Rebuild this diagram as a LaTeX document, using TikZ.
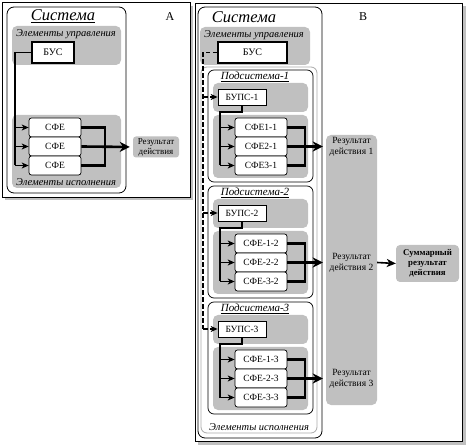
\documentclass[tikz,border=0pt]{standalone}
\usepackage{fontspec}
\setmainfont{Liberation Serif}
\usetikzlibrary{arrows.meta,calc}
\definecolor{areagray}{RGB}{192,192,192}
\definecolor{shadegray}{RGB}{192,192,192}
\definecolor{rimgray}{RGB}{170,170,170}
\begin{document}
\begin{tikzpicture}[x=1pt,y=-1pt,
  frame/.style={draw=black,fill=white,line width=0.8pt},
  shade/.style={fill=shadegray,draw=none},
  sysbox/.style={draw=black,fill=white,rounded corners=7pt,line width=0.8pt},
  subbox/.style={draw=black,fill=white,rounded corners=6pt,line width=0.7pt},
  rim/.style={draw=rimgray,fill=white,rounded corners=6pt,line width=0.8pt},
  area/.style={fill=areagray,draw=none,rounded corners=5pt},
  lbl/.style={font=\fontsize{10.5}{11}\selectfont\itshape,inner sep=0pt},
  subtitle/.style={font=\fontsize{11}{12}\selectfont\itshape,inner sep=0pt},
  bigtitle/.style={font=\fontsize{16.5}{17}\selectfont\itshape,inner sep=0pt},
  letter/.style={font=\fontsize{12}{13}\selectfont,inner sep=0pt},
  busbox/.style={draw=black,fill=white,line width=1.8pt,inner sep=0pt,font=\fontsize{10}{11}\selectfont},
  bupsbox/.style={draw=black,fill=white,line width=0.7pt,inner sep=0pt,minimum width=48pt,minimum height=16pt,font=\fontsize{9.5}{10}\selectfont},
  sfebox/.style={draw=black,fill=white,rounded corners=2.5pt,line width=0.7pt,inner sep=0pt,minimum width=52pt,minimum height=19pt,font=\fontsize{9.5}{10}\selectfont},
  restext/.style={inner sep=0pt,align=center,font=\fontsize{9.5}{11}\selectfont},
  ctl/.style={draw=black,line width=1.1pt},
  ctlarr/.style={draw=black,line width=1.1pt,-{Stealth[length=7pt,width=6pt,inset=2pt]}},
  dashctl/.style={draw=black,line width=1.1pt,dash pattern=on 4.5pt off 2.5pt},
  dasharr/.style={draw=black,line width=1.1pt,dash pattern=on 4.5pt off 2.5pt,-{Stealth[length=7pt,width=6pt,inset=2pt]}},
  outl/.style={draw=black,line width=2.4pt},
  outarr/.style={draw=black,line width=2.6pt,-{Stealth[length=10pt,width=10pt,inset=3pt]},shorten >=3pt},
  midarr/.style={draw=black,line width=1.6pt,-{Stealth[length=9pt,width=8pt,inset=2.5pt]}}
]
\fill[white] (0,0) rectangle (466,446);
\useasboundingbox (0,0) rectangle (466,446);

% ================= Panel A =================
\fill[shade] (5,6) rectangle (193,200);
\draw[frame] (2,2) rectangle (190,197);
\draw[sysbox] (7,7) rectangle (126,193);
\node[bigtitle] (titA) at (63,16) {\underline{Система}};
\node[letter] (letA) at (170,17) {А};

\fill[area] (12,26) rectangle (121,65);
\node[lbl] (upA) at (66,34) {Элементы управления};
\node[busbox,minimum width=42pt,minimum height=21pt] (busA) at (53,52.5) {БУС};

\fill[area] (12,115) rectangle (121,188);
\node[lbl] (exA) at (66,182) {Элементы исполнения};
\node[sfebox] (sA1) at (55,127.5) {СФЕ};
\node[sfebox] (sA2) at (55,146.5) {СФЕ};
\node[sfebox] (sA3) at (55,165.5) {СФЕ};

\node[fill=areagray,rounded corners=3pt,minimum width=46pt,minimum height=21pt,restext,font=\fontsize{9}{10}\selectfont] (resA) at (156,147) {Результат\\действия};

\coordinate (aT) at (15,52.5);
\draw[ctl] (busA.west) -- (aT) -- (aT |- sA3.west);
\foreach \i in {1,2,3}{\draw[ctlarr] (aT |- sA\i.west) -- (sA\i.west);}
\coordinate (aO) at (105,128);
\draw[outl] (sA1.east) -- (aO |- sA1.east) -- (aO |- sA3.east) -- (sA3.east);
\draw[outarr] (sA2.east) -- (resA.west);

% ================= Panel B =================
\fill[shade] (198,6) rectangle (466,445);
\draw[frame] (195,3) rectangle (462,441);
\draw[sysbox] (198,7) rectangle (322,438);
\node[bigtitle] (titB) at (244,17) {Система};
\node[letter] (letB) at (363,17) {В};

\draw[rim] (201,67) rectangle (317,433);
\node[lbl] (exB) at (259,427) {Элементы исполнения};

\fill[area] (200,27) rectangle (310,65);
\node[lbl] (upB) at (254,35) {Элементы управления};
\node[busbox,minimum width=69pt,minimum height=21pt] (busB) at (252.5,52.5) {БУС};

\fill[area] (326,135) rectangle (377,405);

\coordinate (dj) at (203,52.5);

\foreach \k/\T/\d in {1/70/{},2/186/-,3/302/-}{
  \draw[subbox] (208,\T) rectangle (313,\T+112);
  \node[subtitle] (st\k) at (255,\T+7) {\underline{Подсистема-\k}};
  \fill[area] (213,\T+13) rectangle (308,\T+42);
  \node[bupsbox] (bups\k) at (242,\T+27) {БУПС-\k};
  \fill[area] (213,\T+45) rectangle (308,\T+108);
  \node[sfebox] (s\k1) at (261,\T+57.5) {СФЕ\d1-\k};
  \node[sfebox] (s\k2) at (261,\T+76.5) {СФЕ\d2-\k};
  \node[sfebox] (s\k3) at (261,\T+95.5) {СФЕ\d3-\k};
  \node[restext,minimum width=51pt] (r\k) at (351.5,\T+76.5) {Результат\\действия \k};
  \coordinate (cj\k) at (220,\T+42);
  \draw[ctl] (bups\k.south) -- (bups\k.south |- cj\k) -- (cj\k) -- (cj\k |- s\k3.west);
  \draw[ctlarr] (cj\k |- s\k1.west) -- (s\k1.west);
  \draw[ctlarr] (cj\k |- s\k2.west) -- (s\k2.west);
  \draw[ctlarr] (cj\k |- s\k3.west) -- (s\k3.west);
  \coordinate (oj\k) at (305,\T);
  \draw[outl] (s\k1.east) -- (oj\k |- s\k1.east) -- (oj\k |- s\k3.east) -- (s\k3.east);
  \draw[outarr] (s\k2.east) -- (r\k.west);
}

\draw[dashctl] (busB.west) -- (dj) -- (dj |- bups3.west);
\foreach \k in {1,2,3}{\draw[dasharr] (dj |- bups\k.west) -- (bups\k.west);}

\node[fill=areagray,rounded corners=4pt,minimum width=63pt,minimum height=37pt,restext,font=\fontsize{8.8}{10}\selectfont\bfseries] (sum) at (427.5,263.5) {Суммарный\\результат\\действия};
\draw[midarr] (r2.east) -- (sum.west);
\end{tikzpicture}
\end{document}
